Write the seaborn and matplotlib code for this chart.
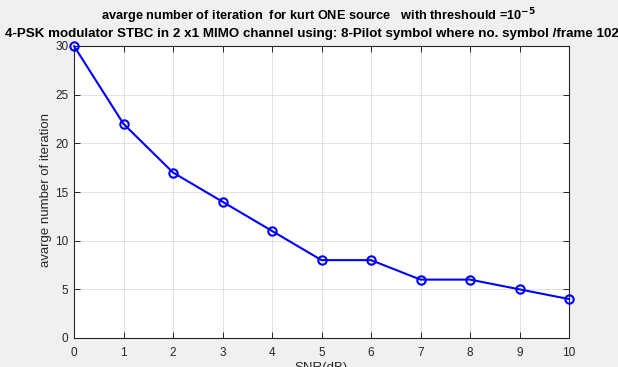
import matplotlib
matplotlib.use("Agg")
import matplotlib.pyplot as plt
import seaborn as sns
import pandas as pd

snr = [0, 1, 2, 3, 4, 5, 6, 7, 8, 9, 10]
iterations = [30, 22, 17, 14, 11, 8, 8, 6, 6, 5, 4]
yticks = [0, 5, 10, 15, 20, 25, 30]
xticks = [0, 1, 2, 3, 4, 5, 6, 7, 8, 9, 10]

sns.set_theme(style="whitegrid")
plt.rcParams['font.family'] = ['Liberation Sans', 'DejaVu Sans']

W, H = 618, 367
fig = plt.figure(figsize=(W/100, H/100), dpi=100, facecolor="#f0f0f0")
ax = fig.add_axes([74/W, 1-338/H, (569-74)/W, (338-46)/H])
ax.set_facecolor("white")

df = pd.DataFrame({"snr": snr, "it": iterations})
sns.lineplot(data=df, x="snr", y="it", ax=ax, color=(0, 0, 1), linewidth=1.5,
             marker="o", markersize=6, markerfacecolor="none",
             markeredgecolor=(0, 0, 1), markeredgewidth=1.5, clip_on=False, zorder=5)

ax.set_xlim(0, 10)
ax.set_ylim(0, 30)
ax.set_xticks(xticks)
ax.set_yticks(yticks)
ax.grid(True, color="#dcdcdc", linewidth=0.6)
for s in ax.spines.values():
    s.set_visible(True)
    s.set_color("#262626")
    s.set_linewidth(0.8)
ax.tick_params(direction="in", length=4, width=0.7, color="#262626",
               labelsize=8.5, labelcolor="#262626", top=True, right=True,
               bottom=True, left=True)
ax.tick_params(axis="x", pad=6.5)
ax.tick_params(axis="y", pad=4)
ax.set_xlabel("")
ax.set_ylabel("")

fig.text(46/W, 1-190/H, "avarge number of iteration", rotation=90, ha="center",
         va="center", fontsize=9.5, color="#262626")
fig.text(321/W, 1-362/H, "SNR(dB)", ha="center", va="top", fontsize=9.5, color="#262626")

fig.text(319/W, 1-20/H, r"avarge number of iteration  for kurt ONE source   with threshould =10$^{\mathbf{-5}}$",
         ha="center", va="baseline", fontsize=9.2, fontweight="bold", color="black")
fig.text(5/W, 1-37/H, "4-PSK modulator STBC in 2 x1 MIMO channel using: 8-Pilot symbol where no. symbol /frame 102",
         ha="left", va="baseline", fontsize=9.65, fontweight="bold", color="black")

fig.savefig("out.png", dpi=100, facecolor=fig.get_facecolor())
